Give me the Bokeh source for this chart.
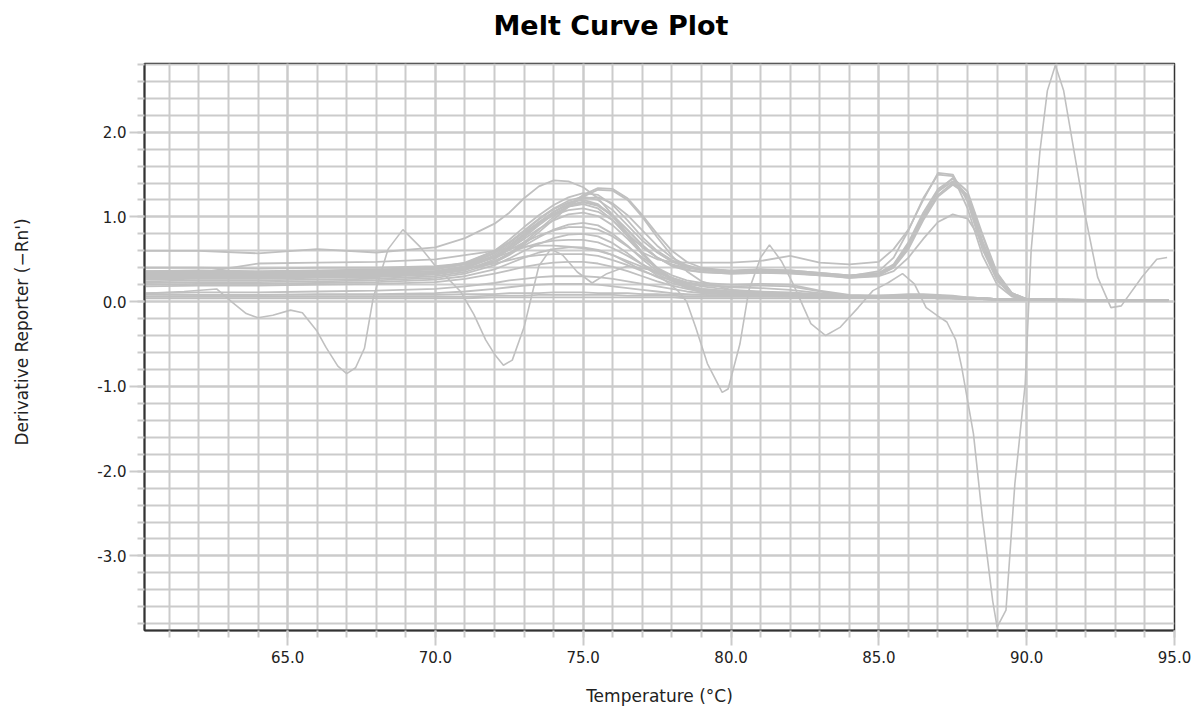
from bokeh.plotting import figure
from bokeh.models import Range1d, FixedTicker, PrintfTickFormatter, Title
from bokeh.embed import file_html
from bokeh.resources import INLINE

# ---------------- data ----------------
TITLE = "Melt Curve Plot"
X_LABEL = "Temperature (°C)"
Y_LABEL = "Derivative Reporter (\u2212Rn')"

X_MAJOR = [65, 70, 75, 80, 85, 90, 95]
X_MINOR = list(range(61, 96))
Y_MAJOR = [-3, -2, -1, 0, 1, 2]
Y_MINOR = [round(-3.8 + 0.2 * i, 1) for i in range(34)]

# common temperature grid (deg C)
T = [60.2, 62, 64, 66, 68, 70, 71, 72, 72.5, 73,
     73.5, 74, 74.5, 75, 75.5, 76, 76.5, 77, 77.5, 78,
     78.5, 79, 80, 81, 82, 83, 84, 85, 85.5, 86,
     86.5, 87, 87.5, 88, 88.5, 89, 89.5, 90, 92, 94.8]

# early, highest well
E = [0.60, 0.60, 0.57, 0.62, 0.58, 0.64, 0.75, 0.92, 1.05, 1.22,
     1.36, 1.43, 1.42, 1.35, 1.22, 1.02, 0.80, 0.58, 0.50, 0.47,
     0.46, 0.46, 0.46, 0.48, 0.54, 0.46, 0.44, 0.47, 0.62, 0.85,
     1.20, 1.52, 1.50, 1.18, 0.62, 0.25, 0.08, 0.03, 0.02, 0.02]

# wells with two melt peaks
P1 = [0.33, 0.34, 0.33, 0.34, 0.35, 0.38, 0.44, 0.58, 0.70, 0.84,
      0.98, 1.10, 1.19, 1.24, 1.20, 1.08, 0.90, 0.72, 0.58, 0.47,
      0.41, 0.37, 0.35, 0.36, 0.35, 0.32, 0.30, 0.33, 0.43, 0.68,
      1.02, 1.30, 1.42, 1.22, 0.66, 0.25, 0.07, 0.02, 0.02, 0.02]
P2 = [0.30, 0.31, 0.30, 0.31, 0.32, 0.34, 0.38, 0.48, 0.57, 0.70,
      0.85, 1.00, 1.14, 1.26, 1.34, 1.33, 1.22, 1.02, 0.80, 0.60,
      0.47, 0.40, 0.36, 0.37, 0.37, 0.34, 0.31, 0.34, 0.44, 0.70,
      1.05, 1.33, 1.45, 1.25, 0.70, 0.27, 0.08, 0.03, 0.02, 0.02]
P3 = [0.28, 0.29, 0.29, 0.30, 0.31, 0.34, 0.40, 0.55, 0.67, 0.80,
      0.94, 1.06, 1.14, 1.18, 1.14, 1.02, 0.85, 0.67, 0.52, 0.42,
      0.37, 0.35, 0.33, 0.34, 0.35, 0.33, 0.29, 0.32, 0.41, 0.64,
      0.98, 1.26, 1.40, 1.24, 0.72, 0.30, 0.09, 0.03, 0.02, 0.02]
P4 = [0.36, 0.36, 0.35, 0.36, 0.37, 0.40, 0.46, 0.60, 0.70, 0.82,
      0.93, 1.02, 1.08, 1.10, 1.06, 0.96, 0.80, 0.64, 0.52, 0.44,
      0.40, 0.38, 0.37, 0.38, 0.36, 0.32, 0.28, 0.30, 0.36, 0.52,
      0.74, 0.94, 1.03, 0.98, 0.70, 0.33, 0.10, 0.03, 0.02, 0.02]
P5 = [0.32, 0.33, 0.32, 0.33, 0.34, 0.36, 0.41, 0.53, 0.64, 0.78,
      0.92, 1.06, 1.16, 1.22, 1.23, 1.16, 1.02, 0.84, 0.66, 0.52,
      0.43, 0.38, 0.34, 0.35, 0.34, 0.31, 0.28, 0.31, 0.40, 0.62,
      0.96, 1.24, 1.38, 1.26, 0.78, 0.32, 0.10, 0.03, 0.02, 0.02]
P6 = [0.26, 0.27, 0.27, 0.28, 0.29, 0.32, 0.37, 0.50, 0.62, 0.76,
      0.90, 1.03, 1.12, 1.17, 1.13, 1.01, 0.84, 0.66, 0.52, 0.43,
      0.38, 0.35, 0.33, 0.34, 0.33, 0.31, 0.30, 0.36, 0.52, 0.84,
      1.22, 1.50, 1.48, 1.10, 0.55, 0.20, 0.06, 0.02, 0.02, 0.02]
P7 = [0.35, 0.35, 0.34, 0.35, 0.36, 0.39, 0.45, 0.60, 0.73, 0.88,
      1.02, 1.14, 1.23, 1.28, 1.26, 1.14, 0.96, 0.76, 0.60, 0.49,
      0.42, 0.38, 0.36, 0.38, 0.37, 0.34, 0.31, 0.33, 0.42, 0.66,
      1.00, 1.30, 1.46, 1.30, 0.80, 0.34, 0.10, 0.03, 0.02, 0.02]

# wells with a single melt peak
S1 = [0.30, 0.31, 0.30, 0.31, 0.32, 0.34, 0.38, 0.47, 0.56, 0.68,
      0.82, 0.97, 1.12, 1.24, 1.32, 1.31, 1.20, 1.00, 0.76, 0.54,
      0.36, 0.24, 0.14, 0.10, 0.09, 0.08, 0.07, 0.07, 0.07, 0.07,
      0.07, 0.07, 0.06, 0.05, 0.04, 0.03, 0.03, 0.02, 0.02, 0.02]
S2 = [0.31, 0.32, 0.31, 0.32, 0.33, 0.36, 0.42, 0.57, 0.69, 0.83,
      0.97, 1.09, 1.17, 1.20, 1.15, 1.00, 0.80, 0.58, 0.40, 0.26,
      0.17, 0.12, 0.09, 0.08, 0.08, 0.07, 0.06, 0.06, 0.06, 0.07,
      0.07, 0.06, 0.05, 0.04, 0.04, 0.03, 0.03, 0.02, 0.02, 0.02]
S3 = [0.27, 0.28, 0.28, 0.29, 0.30, 0.33, 0.39, 0.53, 0.65, 0.79,
      0.93, 1.04, 1.12, 1.15, 1.10, 0.96, 0.77, 0.56, 0.38, 0.25,
      0.16, 0.11, 0.08, 0.07, 0.07, 0.06, 0.05, 0.06, 0.06, 0.06,
      0.06, 0.05, 0.05, 0.04, 0.03, 0.03, 0.02, 0.02, 0.02, 0.02]
S4 = [0.29, 0.30, 0.29, 0.30, 0.31, 0.34, 0.40, 0.52, 0.62, 0.74,
      0.86, 0.96, 1.03, 1.05, 1.01, 0.90, 0.74, 0.56, 0.40, 0.28,
      0.20, 0.15, 0.12, 0.11, 0.10, 0.08, 0.06, 0.06, 0.07, 0.07,
      0.07, 0.06, 0.05, 0.04, 0.03, 0.03, 0.02, 0.02, 0.02, 0.02]
S5 = [0.24, 0.25, 0.25, 0.26, 0.27, 0.30, 0.35, 0.46, 0.55, 0.66,
      0.76, 0.85, 0.91, 0.93, 0.90, 0.80, 0.66, 0.50, 0.36, 0.26,
      0.19, 0.15, 0.12, 0.10, 0.09, 0.08, 0.06, 0.06, 0.06, 0.06,
      0.06, 0.05, 0.05, 0.04, 0.03, 0.03, 0.02, 0.02, 0.02, 0.02]
S6 = [0.36, 0.37, 0.36, 0.37, 0.38, 0.40, 0.44, 0.53, 0.61, 0.70,
      0.78, 0.84, 0.88, 0.88, 0.85, 0.77, 0.65, 0.52, 0.40, 0.31,
      0.25, 0.22, 0.20, 0.21, 0.20, 0.13, 0.08, 0.07, 0.07, 0.08,
      0.08, 0.07, 0.06, 0.05, 0.04, 0.03, 0.03, 0.02, 0.02, 0.02]
S7 = [0.22, 0.23, 0.23, 0.24, 0.25, 0.28, 0.33, 0.43, 0.51, 0.60,
      0.68, 0.75, 0.79, 0.80, 0.77, 0.69, 0.57, 0.44, 0.33, 0.24,
      0.18, 0.14, 0.11, 0.10, 0.09, 0.07, 0.06, 0.06, 0.06, 0.06,
      0.06, 0.05, 0.04, 0.04, 0.03, 0.03, 0.02, 0.02, 0.02, 0.02]
S8 = [0.40, 0.40, 0.39, 0.40, 0.40, 0.42, 0.45, 0.52, 0.58, 0.64,
      0.69, 0.72, 0.73, 0.73, 0.70, 0.63, 0.54, 0.44, 0.35, 0.28,
      0.22, 0.18, 0.14, 0.12, 0.11, 0.09, 0.07, 0.06, 0.06, 0.07,
      0.07, 0.06, 0.05, 0.04, 0.04, 0.03, 0.02, 0.02, 0.02, 0.02]
S9 = [0.20, 0.21, 0.21, 0.22, 0.23, 0.26, 0.30, 0.38, 0.45, 0.52,
      0.58, 0.62, 0.64, 0.64, 0.61, 0.55, 0.46, 0.37, 0.29, 0.22,
      0.17, 0.13, 0.10, 0.09, 0.08, 0.07, 0.06, 0.06, 0.06, 0.06,
      0.05, 0.05, 0.04, 0.04, 0.03, 0.02, 0.02, 0.02, 0.02, 0.02]
S10 = [0.33, 0.33, 0.32, 0.33, 0.34, 0.36, 0.39, 0.45, 0.49, 0.53,
       0.55, 0.56, 0.56, 0.56, 0.54, 0.49, 0.43, 0.36, 0.30, 0.25,
       0.21, 0.19, 0.18, 0.19, 0.18, 0.12, 0.07, 0.06, 0.06, 0.07,
       0.07, 0.06, 0.05, 0.04, 0.03, 0.03, 0.02, 0.02, 0.02, 0.02]
S11 = [0.18, 0.19, 0.19, 0.20, 0.21, 0.23, 0.27, 0.33, 0.37, 0.41,
       0.44, 0.46, 0.47, 0.47, 0.45, 0.41, 0.36, 0.30, 0.24, 0.19,
       0.15, 0.12, 0.10, 0.09, 0.08, 0.06, 0.05, 0.05, 0.05, 0.05,
       0.05, 0.04, 0.04, 0.03, 0.03, 0.02, 0.02, 0.02, 0.02, 0.02]
S12 = [0.30, 0.34, 0.45, 0.46, 0.47, 0.50, 0.55, 0.60, 0.63, 0.65,
       0.66, 0.66, 0.65, 0.63, 0.60, 0.55, 0.48, 0.41, 0.34, 0.28,
       0.23, 0.20, 0.17, 0.16, 0.14, 0.10, 0.07, 0.06, 0.06, 0.06,
       0.06, 0.05, 0.05, 0.04, 0.03, 0.03, 0.02, 0.02, 0.02, 0.02]
S13 = [0.10, 0.11, 0.11, 0.12, 0.13, 0.15, 0.18, 0.22, 0.25, 0.27,
       0.29, 0.30, 0.30, 0.30, 0.29, 0.27, 0.24, 0.21, 0.18, 0.15,
       0.12, 0.10, 0.08, 0.07, 0.07, 0.06, 0.05, 0.05, 0.05, 0.05,
       0.05, 0.04, 0.04, 0.03, 0.03, 0.02, 0.02, 0.02, 0.02, 0.02]
S14 = [0.08, 0.08, 0.08, 0.09, 0.09, 0.10, 0.12, 0.15, 0.17, 0.19,
       0.20, 0.21, 0.21, 0.21, 0.20, 0.18, 0.16, 0.14, 0.12, 0.10,
       0.09, 0.08, 0.07, 0.07, 0.06, 0.06, 0.05, 0.05, 0.05, 0.05,
       0.05, 0.04, 0.04, 0.03, 0.03, 0.02, 0.02, 0.02, 0.02, 0.02]

# flat (no product) wells
F1 = [0.06, 0.06, 0.06, 0.06, 0.06, 0.06, 0.06, 0.07, 0.07, 0.07,
      0.08, 0.08, 0.08, 0.08, 0.08, 0.08, 0.07, 0.07, 0.07, 0.07,
      0.06, 0.06, 0.06, 0.06, 0.06, 0.05, 0.05, 0.06, 0.06, 0.06,
      0.06, 0.05, 0.05, 0.04, 0.04, 0.03, 0.03, 0.02, 0.02, 0.02]
F2 = [0.09, 0.08, 0.08, 0.08, 0.08, 0.08, 0.09, 0.09, 0.10, 0.10,
      0.10, 0.11, 0.11, 0.11, 0.10, 0.10, 0.10, 0.09, 0.09, 0.08,
      0.08, 0.08, 0.07, 0.07, 0.07, 0.06, 0.06, 0.07, 0.08, 0.09,
      0.09, 0.08, 0.07, 0.05, 0.04, 0.03, 0.03, 0.02, 0.02, 0.02]
F3 = [0.04, 0.04, 0.04, 0.04, 0.04, 0.04, 0.04, 0.05, 0.05, 0.05,
      0.05, 0.05, 0.05, 0.05, 0.05, 0.05, 0.05, 0.05, 0.05, 0.05,
      0.04, 0.04, 0.04, 0.04, 0.04, 0.04, 0.04, 0.04, 0.04, 0.04,
      0.04, 0.04, 0.04, 0.03, 0.03, 0.03, 0.02, 0.02, 0.01, 0.01]

# one noisy well, sampled on its own temperatures
ODD_T = [60.2, 61.5, 62.6, 63.1, 63.6, 64.0, 64.5, 65.1, 65.5, 66.0,
         66.3, 66.7, 67.0, 67.3, 67.6, 67.9, 68.4, 68.9, 69.5, 70.0,
         70.4, 70.85, 71.3, 71.7, 72.0, 72.3, 72.6, 73.0, 73.5, 73.9,
         74.3, 74.8, 75.3, 75.8, 76.5, 77.2, 77.8, 78.2, 78.5, 78.8,
         79.2, 79.7, 79.9, 80.3, 80.6, 81.0, 81.3, 81.7, 82.1, 82.7,
         83.2, 83.7, 84.3, 84.8, 85.3, 85.8, 86.2, 86.6, 87.0, 87.3,
         87.6, 87.8, 88.2, 88.5, 88.85, 89.0, 89.3, 89.6, 89.95, 90.15,
         90.45, 90.7, 90.97, 91.25, 91.6, 91.95, 92.4, 92.85, 93.2, 93.9,
         94.4, 94.75]
ODD_Y = [0.10, 0.12, 0.15, 0.00, -0.14, -0.19, -0.16, -0.10, -0.13, -0.35,
         -0.54, -0.76, -0.85, -0.78, -0.55, 0.05, 0.62, 0.85, 0.64, 0.42,
         0.28, 0.12, -0.15, -0.45, -0.62, -0.75, -0.69, -0.30, 0.42, 0.62,
         0.55, 0.35, 0.22, 0.33, 0.42, 0.38, 0.24, 0.13, 0.00, -0.30,
         -0.73, -1.07, -1.03, -0.50, 0.13, 0.52, 0.67, 0.48, 0.21, -0.26,
         -0.40, -0.30, -0.07, 0.13, 0.22, 0.33, 0.21, -0.07, -0.17, -0.24,
         -0.45, -0.77, -1.56, -2.54, -3.53, -3.84, -3.64, -2.15, -0.97, 0.60,
         1.78, 2.49, 2.79, 2.49, 1.78, 1.07, 0.29, -0.07, -0.05, 0.29,
         0.50, 0.52]

CURVES = [F3, F1, F2, S14, S13, S11, S9, S7, S5, S12, S10, S8, S6, S4, S3,
          S2, S1, P4, P6, P3, P5, P1, P7, P2, E]

# ---------------- figure ----------------
FONT = "DejaVu Sans"
GRID = "#cbcbcb"
CURVE = "#c0c0c0"
FRAME = "#333333"

p = figure(width=1197, height=715,
           x_range=Range1d(60.16, 95.0), y_range=Range1d(-3.88, 2.81),
           output_backend="svg", toolbar_location=None,
           min_border_left=144, min_border_right=23,
           min_border_top=63, min_border_bottom=85)

p.background_fill_color = "white"
p.border_fill_color = "white"
p.outline_line_color = FRAME
p.outline_line_width = 1.5

# spacer between frame and title, then the title itself
top_gap = Title(text=" ", text_font_size="1px", standoff=15)
main_title = Title(text=TITLE, text_font=FONT, text_font_size="27px",
                   text_font_style="bold", text_color="#000000",
                   align="left", offset=349, standoff=10)
p.add_layout(top_gap, "above")
p.add_layout(main_title, "above")

for c in CURVES:
    p.line(T, c, line_color=CURVE, line_width=1.8)
p.line(ODD_T, ODD_Y, line_color=CURVE, line_width=1.6)

p.xaxis.ticker = FixedTicker(ticks=X_MAJOR, minor_ticks=X_MINOR)
p.yaxis.ticker = FixedTicker(ticks=Y_MAJOR, minor_ticks=Y_MINOR)
p.xaxis.formatter = PrintfTickFormatter(format="%.1f")
p.yaxis.formatter = PrintfTickFormatter(format="%.1f")

for g in (p.xgrid, p.ygrid):
    g.grid_line_color = GRID
    g.grid_line_width = 2
    g.minor_grid_line_color = GRID
    g.minor_grid_line_width = 2

for ax in (p.xaxis, p.yaxis):
    ax.axis_line_color = FRAME
    ax.axis_line_width = 2
    ax.major_tick_out = 15
    ax.major_tick_in = 0
    ax.minor_tick_out = 7
    ax.minor_tick_in = 0
    ax.major_tick_line_color = GRID
    ax.major_tick_line_width = 2
    ax.minor_tick_line_color = GRID
    ax.minor_tick_line_width = 2
    ax.major_label_text_font = FONT
    ax.major_label_text_font_size = "15px"
    ax.major_label_text_color = "#222222"
    ax.axis_label_text_font = FONT
    ax.axis_label_text_font_size = "17px"
    ax.axis_label_text_font_style = "normal"
    ax.axis_label_text_color = "#222222"

p.xaxis.axis_label = X_LABEL
p.xaxis.major_label_standoff = 5
p.xaxis.axis_label_standoff = 20
p.yaxis.major_label_standoff = 3

# spacer between y axis and its title, then the title (shifted up a little)
left_gap = Title(text=" ", text_font_size="1px", standoff=51)
y_title = Title(text=Y_LABEL, text_font=FONT, text_font_size="17px",
                text_font_style="normal", text_color="#222222",
                align="left", offset=185, standoff=18)
p.add_layout(left_gap, "left")
p.add_layout(y_title, "left")

open("out.html", "w").write(file_html(p, INLINE))
